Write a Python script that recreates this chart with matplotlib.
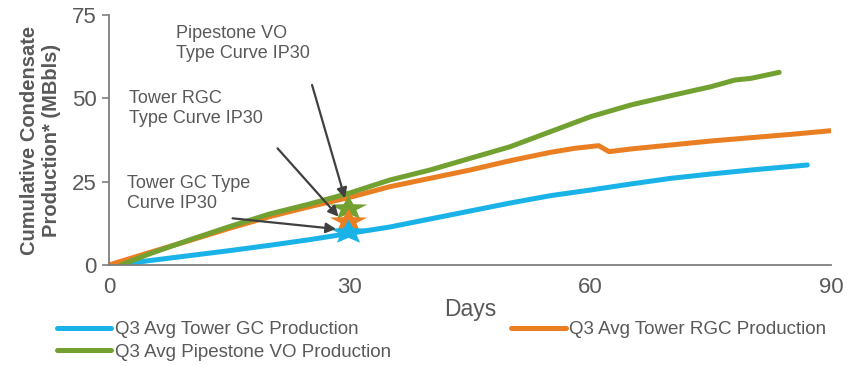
import matplotlib
matplotlib.use("Agg")
import matplotlib.pyplot as plt
import numpy as np

plt.rcParams["font.family"] = ["Liberation Sans", "DejaVu Sans"]

# Q3 Avg Tower GC
gc_days = [1, 5, 10, 15, 20, 25, 30, 35, 40, 45, 50, 55, 60, 65, 70, 75, 80, 87]
gc_vals = [0, 1.3, 2.8, 4.3, 5.9, 7.6, 9.5, 11.4, 13.8, 16.2, 18.6, 20.8, 22.5, 24.3, 26.0, 27.3, 28.5, 30.0]
# Q3 Avg Tower RGC
rgc_days = [0, 5, 10, 15, 20, 25, 30, 35, 40, 45, 50, 55, 58, 61, 62.3, 65, 70, 75, 80, 85, 90]
rgc_vals = [0, 3.7, 7.3, 11.0, 14.5, 17.5, 20.3, 23.5, 26.0, 28.5, 31.3, 33.8, 35.0, 35.8, 34.0, 34.8, 36.0, 37.2, 38.2, 39.2, 40.3]
# Q3 Avg Pipestone VO
vo_days = [1.5, 5, 10, 15, 20, 25, 30, 35, 40, 45, 50, 55, 60, 65, 70, 75, 78, 80, 83.5]
vo_vals = [0, 3.3, 7.5, 11.5, 15.3, 18.3, 21.6, 25.5, 28.5, 32.0, 35.5, 40.0, 44.5, 48.0, 50.8, 53.5, 55.5, 56.0, 57.8]

# type curve IP30 stars
tc_day = 29.8
tc_gc, tc_rgc, tc_vo = 9.9, 13.2, 17.1

BLUE, ORANGE, GREEN = "#1AB3E8", "#EA7E22", "#72A132"
GREY = "#595959"

# wide (horizontally stretched) five-point star marker, as in the original
ang = np.pi / 2 + np.arange(10) * np.pi / 5
rad = np.where(np.arange(10) % 2 == 0, 1.0, 0.42)
star = list(zip(1.55 * rad * np.cos(ang), rad * np.sin(ang)))

fig = plt.figure(figsize=(8.58, 3.66), dpi=100)
ax = fig.add_axes([0.127, 0.276, 0.842, 0.683])

h_gc, = ax.plot(gc_days, gc_vals, color=BLUE, lw=3.6, solid_capstyle="round", label="Q3 Avg Tower GC Production")
h_rgc, = ax.plot(rgc_days, rgc_vals, color=ORANGE, lw=3.6, solid_capstyle="round", label="Q3 Avg Tower RGC Production")
h_vo, = ax.plot(vo_days, vo_vals, color=GREEN, lw=3.6, solid_capstyle="round", label="Q3 Avg Pipestone VO Production")

ax.plot([tc_day], [tc_vo], marker=star, ms=27, color=GREEN, mec="none", ls="none", zorder=4)
ax.plot([tc_day], [tc_rgc], marker=star, ms=27, color=ORANGE, mec="none", ls="none", zorder=4)
ax.plot([tc_day], [tc_gc], marker=star, ms=27, color=BLUE, mec="none", ls="none", zorder=4)

arr = dict(arrowstyle="-|>", color="#404040", lw=1.6, mutation_scale=15, shrinkA=0, shrinkB=0)
ax.annotate("", xy=(29.4, 20.0), xytext=(25.3, 54), arrowprops=arr, zorder=5)
ax.annotate("", xy=(28.6, 14.5), xytext=(21, 35), arrowprops=arr, zorder=5)
ax.annotate("", xy=(28.3, 10.8), xytext=(15.4, 14), arrowprops=arr, zorder=5)

ax.text(8.3, 72, "Pipestone VO\nType Curve IP30", fontsize=13, color=GREY, va="top", linespacing=1.25)
ax.text(2.5, 52.5, "Tower RGC\nType Curve IP30", fontsize=13, color=GREY, va="top", linespacing=1.25)
ax.text(2.2, 27, "Tower GC Type\nCurve IP30", fontsize=13, color=GREY, va="top", linespacing=1.25)

ax.set_xlim(0, 90)
ax.set_ylim(0, 75)
ax.set_xticks([0, 30, 60, 90])
ax.set_yticks([0, 25, 50, 75])
for s in ["top", "right"]:
    ax.spines[s].set_visible(False)
ax.spines["left"].set_color("#7f7f7f")
ax.spines["bottom"].set_color("#7f7f7f")
ax.spines["left"].set_linewidth(1.3)
ax.spines["bottom"].set_linewidth(1.3)
ax.tick_params(axis="x", length=0, pad=9, labelsize=16, labelcolor=GREY)
ax.tick_params(axis="y", length=5, color="#7f7f7f", width=1.2, pad=4, labelsize=16, labelcolor=GREY)

ax.set_xlabel("Days", fontsize=16.5, color=GREY, labelpad=0)
ax.set_ylabel("Cumulative Condensate\nProduction* (MBbls)", fontsize=14.5, color=GREY, fontweight="bold",
              labelpad=8, linespacing=1.15)

fig.legend(handles=[h_gc, h_vo, h_rgc], loc="upper left", bbox_to_anchor=(57 / 858, 1 - 321 / 366), ncol=2,
           frameon=False, fontsize=13.5, borderpad=0, borderaxespad=0,
           handlelength=2.9, handletextpad=0.2, columnspacing=6.4, labelspacing=0.3, labelcolor=GREY)

fig.savefig("out.png", dpi=100)
